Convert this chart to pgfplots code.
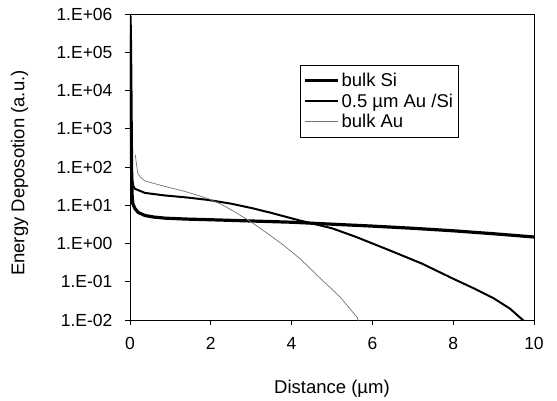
\documentclass[border=0pt]{standalone}
\usepackage{fontspec}
\setmainfont{Liberation Sans}
\usepackage{pgfplots}
\pgfplotsset{compat=1.18}
\begin{document}
\begin{tikzpicture}
\begin{axis}[name=ax,
  scale only axis, width=404pt, height=306pt,
  xmin=0, xmax=10, ymode=log, ymin=1e-2, ymax=1e6,
  xtick={0,2,4,6,8,10}, xticklabels={0,2,4,6,8,10},
  ytick={1e-2,1e-1,1e0,1e1,1e2,1e3,1e4,1e5,1e6},
  yticklabels={1.E-02,1.E-01,1.E+00,1.E+01,1.E+02,1.E+03,1.E+04,1.E+05,1.E+06},
  yminorticks=false,
  tick align=outside, xtick pos=left, ytick pos=left,
  major tick length=5pt,
  tick style={black, line width=0.6pt},
  axis line style={black, line width=0.8pt},
  ticklabel style={font=\fontsize{17.5pt}{20pt}\selectfont},
  yticklabel style={xshift=-9pt},
  xticklabel style={yshift=-9pt},
  xlabel={Distance (µm)}, ylabel={Energy Deposotion (a.u.)},
  label style={font=\fontsize{18.5pt}{21pt}\selectfont},
  xlabel style={at={(axis description cs:0.5,-0.225)}, anchor=center},
  ylabel style={at={(axis description cs:-0.273,0.48)}, anchor=center},
  legend style={at={(axis description cs:0.421,0.833)}, anchor=north west,
    draw=black, line width=0.6pt, font=\fontsize{18.5pt}{21pt}\selectfont,
    inner xsep=3pt, inner ysep=6pt, row sep=1.5pt},
  legend cell align=left,
  legend image code/.code={\draw[#1] (0pt,0pt) -- (33pt,0pt);},
]
\addplot[black, line width=3.2pt, line join=round] coordinates {
(0,9e5) (0.01,2e5) (0.02,2e4) (0.03,1e3) (0.04,80) (0.05,20) (0.07,11)
(0.12,8.3) (0.2,6.5) (0.37,5.4) (0.6,4.9) (0.87,4.6) (1.4,4.35) (1.93,4.2)
(2.92,3.9) (4,3.6) (5,3.2) (6,2.85) (7,2.5) (8,2.15) (9,1.8) (10,1.48)};
\addlegendentry{bulk Si}
\addplot[black, line width=2pt, line join=round] coordinates {
(0,3e5) (0.01,5e4) (0.02,3e3) (0.03,300) (0.05,50) (0.08,32) (0.12,27)
(0.37,21) (0.87,18) (1.4,16) (1.93,13.8) (2.5,11) (3,8.5) (3.5,6.3)
(4.2,4.0) (5,2.5) (5.6,1.48) (6.4,0.68) (7.22,0.3) (8,0.12) (8.5,0.068)
(9,0.037) (9.4,0.02) (9.7,0.0105) (9.75,0.0095)};
\addlegendentry{0.5 µm Au /Si}
\addplot[black!55, line width=0.7pt, line join=round] coordinates {
(0.13,210) (0.16,120) (0.19,70) (0.25,55) (0.37,43) (0.87,31) (1.36,23)
(1.93,15) (2.27,10.5) (2.67,6) (2.97,3.8) (3.4,1.85) (3.8,0.9) (4.21,0.4)
(4.74,0.115) (5.2,0.04) (5.62,0.0118) (5.65,0.0095)};
\addlegendentry{bulk Au}
\end{axis}
\path (ax.south west) ++(-130pt,-80pt) rectangle ++(557pt,400pt);
\end{tikzpicture}
\end{document}
